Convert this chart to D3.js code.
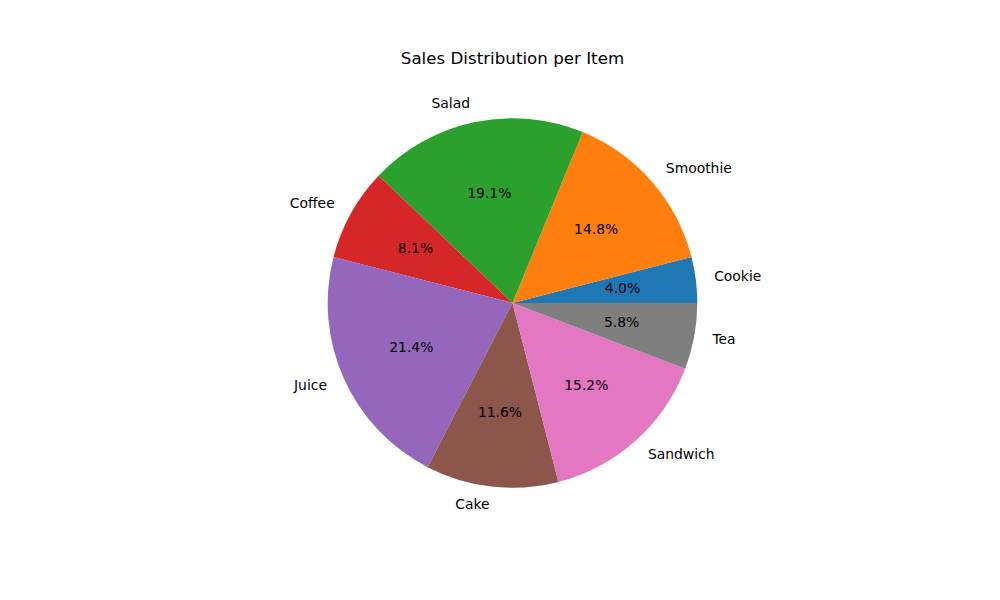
<!DOCTYPE html>
<html>
<head>
<meta charset="utf-8">
<script src="https://cdn.jsdelivr.net/npm/d3@7"></script>
<style>
  html, body { margin: 0; padding: 0; background: #ffffff; }
  svg { display: block; }
  text { font-family: "DejaVu Sans", sans-serif; }
</style>
</head>
<body>
<svg id="chart" width="1000" height="600"></svg>
<script>
const title = "Sales Distribution per Item";
const categories = ["Cookie", "Smoothie", "Salad", "Coffee", "Juice", "Cake", "Sandwich", "Tea"];
const values = [4.0, 14.8, 19.1, 8.1, 21.4, 11.6, 15.2, 5.8];
const colors = ["#1f77b4", "#ff7f0e", "#2ca02c", "#d62728", "#9467bd", "#8c564b", "#e377c2", "#7f7f7f"];

const W = 1000, H = 600;
const cx = 512.5, cy = 303, R = 184.8;

const svg = d3.select("#chart");
svg.append("rect").attr("width", W).attr("height", H).attr("fill", "#ffffff");

const data = categories.map((c, i) => ({ name: c, value: values[i], color: colors[i] }));
const total = d3.sum(values);

// matplotlib: start at 3 o'clock, counterclockwise
const pie = d3.pie().sort(null).value(d => d.value)
  .startAngle(Math.PI / 2).endAngle(Math.PI / 2 - 2 * Math.PI);
const arcs = pie(data);
const arc = d3.arc().innerRadius(0).outerRadius(R);

const g = svg.append("g").attr("transform", `translate(${cx},${cy})`);
g.selectAll("path").data(arcs).enter().append("path")
  .attr("d", arc)
  .attr("fill", d => d.data.color);

function pointAt(d, rr) {
  const a = (d.startAngle + d.endAngle) / 2;
  return [rr * Math.sin(a), -rr * Math.cos(a)];
}

// Labels
g.selectAll("text.label").data(arcs).enter().append("text")
  .attr("class", "label")
  .attr("x", d => pointAt(d, 1.1 * R)[0])
  .attr("y", d => pointAt(d, 1.1 * R)[1])
  .attr("dy", "0.28em")
  .attr("text-anchor", d => pointAt(d, 1)[0] > 0 ? "start" : "end")
  .attr("font-size", "13.9px")
  .attr("fill", "#000")
  .text(d => d.data.name);

// Percent labels
g.selectAll("text.pct").data(arcs).enter().append("text")
  .attr("class", "pct")
  .attr("x", d => pointAt(d, 0.6 * R)[0])
  .attr("y", d => pointAt(d, 0.6 * R)[1])
  .attr("dy", "0.28em")
  .attr("text-anchor", "middle")
  .attr("font-size", "13.9px")
  .attr("fill", "#000")
  .text(d => (d.data.value / total * 100).toFixed(1) + "%");

// Title
svg.append("text")
  .attr("x", cx).attr("y", 64)
  .attr("text-anchor", "middle")
  .attr("font-size", "16.7px")
  .attr("fill", "#000")
  .text(title);
</script>
</body>
</html>
